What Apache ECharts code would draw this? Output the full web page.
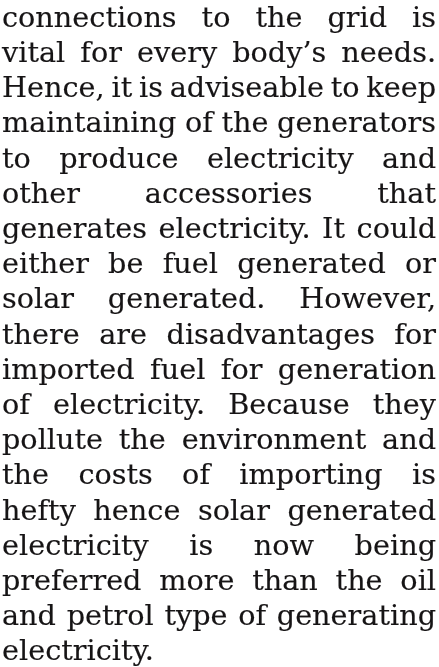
<!DOCTYPE html>
<html>
<head>
<meta charset="utf-8">
<script src="https://cdn.jsdelivr.net/npm/echarts@6/dist/echarts.min.js"></script>
<style>
html,body{margin:0;padding:0;background:#fff;}
#c{width:439px;height:667px;}
</style>
</head>
<body>
<div id="c"></div>
<script>
// Paragraph lines as they break in the reference
const lines = [
  "connections to the grid is",
  "vital for every body\u2019s needs.",
  "Hence, it is adviseable to keep",
  "maintaining of the generators",
  "to produce electricity and",
  "other accessories that",
  "generates electricity. It could",
  "either be fuel generated or",
  "solar generated. However,",
  "there are disadvantages for",
  "imported fuel for generation",
  "of electricity. Because they",
  "pollute the environment and",
  "the costs of importing is",
  "hefty hence solar generated",
  "electricity is now being",
  "preferred more than the oil",
  "and petrol type of generating",
  "electricity."
];
// last line of the paragraph is not justified
const lastLineIndex = lines.length - 1;

const fontFamily = "'DejaVu Serif', serif";
const textColor = '#161415';
const left = 2, right = 436;
const firstBaseline = 26.5, lineStep = 35.2;

const cv = document.createElement('canvas');
const ctx = cv.getContext('2d');
function measure(t, size){ ctx.font = size + 'px ' + fontFamily; return ctx.measureText(t).width; }

// fit font size so the final (unjustified) line matches the reference width
const targetLast = 152;
const fontSize = +(26 * targetLast / measure(lines[lastLineIndex], 26)).toFixed(2);
// canvas 'middle' sits about a quarter em above the alphabetic baseline
const midOffset = fontSize * 0.25;

const elements = [];
lines.forEach((ln, i) => {
  const words = ln.split(' ');
  const widths = words.map(w => measure(w, fontSize));
  const total = widths.reduce((a,b)=>a+b,0);
  const spaceW = measure(' ', fontSize);
  let gap = spaceW;
  let scaleX = 1;
  if (i !== lastLineIndex && words.length > 1) {
    gap = (right - left - total) / (words.length - 1);
    if (gap < spaceW * 0.6) {
      gap = spaceW * 0.6;
      scaleX = (right - left) / (total + gap * (words.length - 1));
    }
  }
  let x = left;
  const baseline = firstBaseline + lineStep * i;
  words.forEach((w, k) => {
    elements.push({
      type: 'text',
      x: x, y: baseline - midOffset,
      scaleX: scaleX,
      style: {
        text: w,
        x: 0, y: 0,
        font: fontSize + 'px ' + fontFamily,
        fill: textColor,
        stroke: textColor,
        lineWidth: 0.15,
        textAlign: 'left',
        textVerticalAlign: 'middle'
      }
    });
    x += (widths[k] + gap) * scaleX;
  });
});

const chart = echarts.init(document.getElementById('c'), null, {renderer: 'canvas'});
chart.setOption({
  backgroundColor: '#ffffff',
  animation: false,
  graphic: { elements: elements }
});
</script>
</body>
</html>
